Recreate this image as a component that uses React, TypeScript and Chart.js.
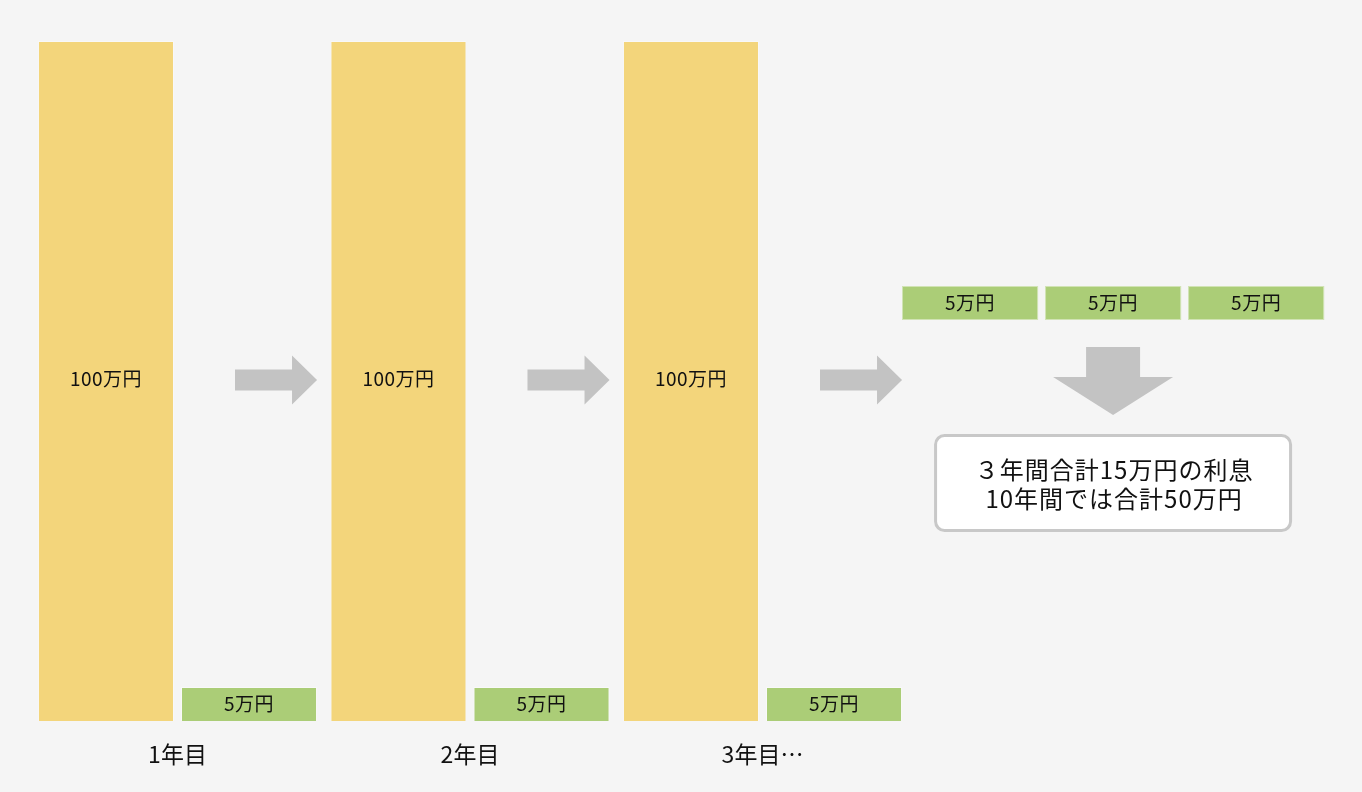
import React, { useEffect, useRef } from "react";
import { Chart, registerables } from "chart.js";

Chart.register(...registerables);

const categories = ["1年目", "2年目", "3年目…"];
const principal = [100, 100, 100];
const interest = [5, 5, 5];
const accumulated = [5, 5, 5];
const summaryLines = ["３年間合計15万円の利息", "10年間では合計50万円"];
const unit = "万円";

const FONT = '"Noto Sans CJK JP", "Noto Sans", sans-serif';
const BG = "#f5f5f5";
const YELLOW = "#f3d57b";
const GREEN = "#abcd77";
const GREY = "#c3c3c3";
const TEXT = "#111111";

const decorPlugin = {
  id: "decor",
  beforeDraw(chart: any) {
    const ctx = chart.ctx;
    ctx.save();
    ctx.fillStyle = BG;
    ctx.fillRect(0, 0, chart.width, chart.height);
    ctx.restore();
  },
  afterDatasetsDraw(chart: any) {
    const ctx = chart.ctx;
    const y = chart.scales.y;
    const yellowBars = chart.getDatasetMeta(0).data;
    const greenBars = chart.getDatasetMeta(1).data;
    ctx.save();
    ctx.fillStyle = TEXT;
    ctx.textAlign = "center";
    ctx.textBaseline = "middle";
    ctx.font = `19px ${FONT}`;
    ctx.letterSpacing = "0.5px";
    yellowBars.forEach((b: any, i: number) => {
      ctx.fillText(`${principal[i]}${unit}`, b.x, (b.y + b.base) / 2 - 2);
    });
    greenBars.forEach((b: any, i: number) => {
      ctx.fillText(`${interest[i]}${unit}`, b.x, (b.y + b.base) / 2);
    });

    // right arrows
    ctx.fillStyle = GREY;
    yellowBars.forEach((b: any, i: number) => {
      const g = greenBars[i];
      const start = b.x + b.width / 2 + 61;
      const tip = g.x + g.width / 2;
      const cy = (b.y + b.base) / 2 - 1;
      const headLen = 25;
      ctx.beginPath();
      ctx.moveTo(start, cy - 10.5);
      ctx.lineTo(tip - headLen, cy - 10.5);
      ctx.lineTo(tip - headLen, cy - 24.5);
      ctx.lineTo(tip, cy);
      ctx.lineTo(tip - headLen, cy + 24.5);
      ctx.lineTo(tip - headLen, cy + 10.5);
      ctx.lineTo(start, cy + 10.5);
      ctx.closePath();
      ctx.fill();
    });

    // accumulated interest boxes
    const lastG = greenBars[greenBars.length - 1];
    const pitch = greenBars[0].x - yellowBars[0].x;
    const w = lastG.width;
    const x0 = lastG.x + w / 2;
    const top = chart.chartArea.top + 245;
    accumulated.forEach((v, k) => {
      const h = y.getPixelForValue(0) - y.getPixelForValue(v);
      const lx = x0 + k * pitch;
      ctx.fillStyle = GREEN;
      ctx.fillRect(lx, top, w, h);
      ctx.strokeStyle = "rgba(255,255,255,0.45)";
      ctx.lineWidth = 1;
      ctx.strokeRect(lx + 0.5, top + 0.5, w - 1, h - 1);
      ctx.fillStyle = TEXT;
      ctx.fillText(`${v}${unit}`, lx + w / 2, top + h / 2);
    });
    const boxesRight = x0 + (accumulated.length - 1) * pitch + w;
    const cx = (x0 + boxesRight) / 2;
    const boxesBottom = top + (y.getPixelForValue(0) - y.getPixelForValue(accumulated[0]));

    // down arrow
    const aTop = boxesBottom + 27;
    ctx.fillStyle = GREY;
    ctx.beginPath();
    ctx.moveTo(cx - 27, aTop);
    ctx.lineTo(cx + 27, aTop);
    ctx.lineTo(cx + 27, aTop + 30);
    ctx.lineTo(cx + 60, aTop + 30);
    ctx.lineTo(cx, aTop + 68);
    ctx.lineTo(cx - 60, aTop + 30);
    ctx.lineTo(cx - 27, aTop + 30);
    ctx.closePath();
    ctx.fill();

    // summary box
    const bw = 355;
    const bh = 95;
    const bx = cx - bw / 2;
    const by = aTop + 88.5;
    ctx.beginPath();
    ctx.roundRect(bx, by, bw, bh, 9);
    ctx.fillStyle = "#ffffff";
    ctx.fill();
    ctx.lineWidth = 3;
    ctx.strokeStyle = "#c8c8c8";
    ctx.stroke();
    ctx.fillStyle = TEXT;
    ctx.font = `24px ${FONT}`;
    ctx.letterSpacing = "1px";
    summaryLines.forEach((line, i) => {
      ctx.fillText(line, cx + 1, by + 34 + i * 29.5);
    });
    ctx.restore();
  },
};

export default function App() {
  const ref = useRef<HTMLCanvasElement | null>(null);
  useEffect(() => {
    if (!ref.current) return;
    const chart = new Chart(ref.current, {
      type: "bar",
      data: {
        labels: categories,
        datasets: [
          {
            data: principal,
            backgroundColor: YELLOW,
            borderColor: "rgba(255,255,255,0.3)",
            borderWidth: 1,
            categoryPercentage: 0.978,
            barPercentage: 0.951,
          },
          {
            data: interest,
            backgroundColor: GREEN,
            borderColor: "rgba(255,255,255,0.4)",
            borderWidth: 1,
            categoryPercentage: 0.978,
            barPercentage: 0.951,
          },
        ],
      },
      options: {
        animation: false,
        responsive: true,
        maintainAspectRatio: false,
        layout: { padding: { left: 31.25, right: 453.25, top: 41, bottom: 0 } },
        plugins: { legend: { display: false }, tooltip: { enabled: false } },
        scales: {
          x: {
            grid: { display: false, drawTicks: false },
            border: { display: false },
            ticks: { color: TEXT, font: { family: FONT, size: 23 }, padding: 19 },
            afterFit: (axis: any) => {
              axis.height = 71;
            },
          },
          y: { display: false, min: 0, max: 100 },
        },
      },
      plugins: [decorPlugin],
    });
    return () => chart.destroy();
  }, []);
  return (
    <div style={{ position: "absolute", left: 0, top: 0, width: 1362, height: 792 }}>
      <canvas ref={ref} />
    </div>
  );
}
